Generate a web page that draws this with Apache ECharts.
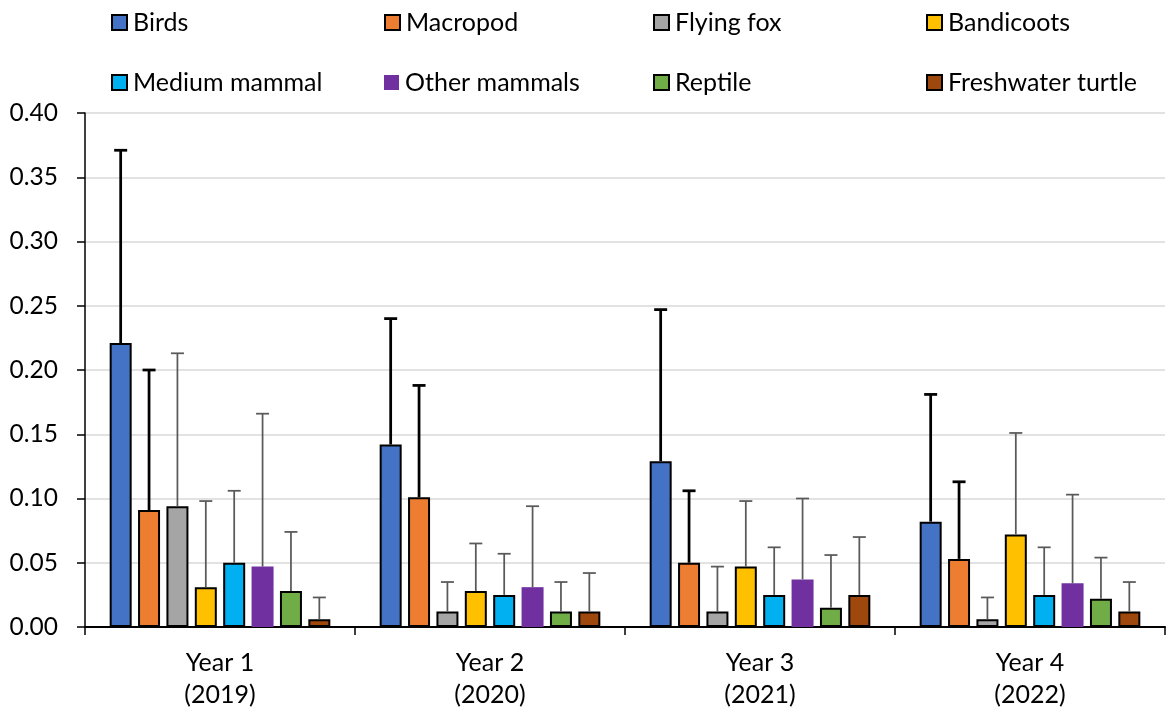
<!DOCTYPE html>
<html>
<head>
<meta charset="utf-8">
<script src="https://cdn.jsdelivr.net/npm/echarts@6/dist/echarts.min.js"></script>
<style>html,body{margin:0;padding:0;background:#fff}#c{width:1166px;height:707px}</style>
</head>
<body>
<div id="c"></div>
<script>
const categories = ['Year 1\n(2019)', 'Year 2\n(2020)', 'Year 3\n(2021)', 'Year 4\n(2022)'];
const speciesNames = ['Birds', 'Macropod', 'Flying fox', 'Bandicoots', 'Medium mammal', 'Other mammals', 'Reptile', 'Freshwater turtle'];
const yTicks = [0, 0.05, 0.10, 0.15, 0.20, 0.25, 0.30, 0.35, 0.40];

// mean values per species (Year 1..4)
const birds      = [0.221, 0.142, 0.129, 0.082];
const macropod   = [0.091, 0.101, 0.050, 0.053];
const flyingFox  = [0.094, 0.012, 0.012, 0.006];
const bandicoots = [0.031, 0.028, 0.047, 0.072];
const medium     = [0.050, 0.025, 0.025, 0.025];
const otherMam   = [0.047, 0.031, 0.037, 0.034];
const reptile    = [0.028, 0.012, 0.015, 0.022];
const turtle     = [0.006, 0.012, 0.025, 0.012];

// upper end of error bars
const birdsUp      = [0.371, 0.240, 0.247, 0.181];
const macropodUp   = [0.200, 0.188, 0.106, 0.113];
const flyingFoxUp  = [0.213, 0.035, 0.047, 0.023];
const bandicootsUp = [0.098, 0.065, 0.098, 0.151];
const mediumUp     = [0.106, 0.057, 0.062, 0.062];
const otherMamUp   = [0.166, 0.094, 0.100, 0.103];
const reptileUp    = [0.074, 0.035, 0.056, 0.054];
const turtleUp     = [0.023, 0.042, 0.070, 0.035];

const means = [birds, macropod, flyingFox, bandicoots, medium, otherMam, reptile, turtle];
const uppers = [birdsUp, macropodUp, flyingFoxUp, bandicootsUp, mediumUp, otherMamUp, reptileUp, turtleUp];

const colors = ['#4472C4', '#ED7D31', '#A5A5A5', '#FFC000', '#00B0F0', '#7030A0', '#70AD47', '#9E480E'];
const borderW = [2, 2, 2, 2, 2, 0, 2, 2];
const errColor = ['#000000', '#000000', '#595959', '#595959', '#595959', '#595959', '#595959', '#595959'];
const errWidth = [2.75, 2.75, 1.75, 1.75, 1.75, 1.75, 1.75, 1.75];

const FONT = 'Lato';
const BAR_W = 22;
const BAR_GAP = 0.29;
const PITCH = BAR_W * (1 + BAR_GAP);
const n = speciesNames.length;

const series = [];
speciesNames.forEach((name, i) => {
  series.push({
    name: name,
    type: 'bar',
    data: means[i],
    barWidth: BAR_W,
    barGap: (BAR_GAP * 100) + '%',
    itemStyle: { color: colors[i], borderColor: '#000', borderWidth: borderW[i] },
    emphasis: { disabled: true },
    z: 2
  });
});
speciesNames.forEach((name, i) => {
  series.push({
    name: name + ' error',
    type: 'custom',
    data: means[i].map((v, k) => [k, v, uppers[i][k]]),
    z: 5,
    silent: true,
    renderItem: function (params, api) {
      const base = api.coord([api.value(0), api.value(1)]);
      const top = api.coord([api.value(0), api.value(2)]);
      const x = base[0] + (i - (n - 1) / 2) * PITCH;
      const half = 6.5;
      const st = { stroke: errColor[i], lineWidth: errWidth[i] };
      return {
        type: 'group',
        children: [
          { type: 'line', shape: { x1: x, y1: base[1], x2: x, y2: top[1] }, style: st },
          { type: 'line', shape: { x1: x - half, y1: top[1], x2: x + half, y2: top[1] }, style: st }
        ]
      };
    }
  });
});

const legendLeft = [111, 384, 653, 926];
const legends = speciesNames.map((name, i) => ({
  data: [name],
  left: legendLeft[i % 4],
  top: i < 4 ? 10 : 70,
  itemWidth: 15,
  itemHeight: 15,
  itemGap: 0,
  padding: 0,
  selectedMode: false,
  textStyle: { fontFamily: FONT, fontSize: 25, color: '#000', padding: [0, 0, 0, 1] },
  icon: 'rect'
}));

const chart = echarts.init(document.getElementById('c'), null, { renderer: 'canvas' });
chart.setOption({
  animation: false,
  backgroundColor: '#fff',
  legend: legends,
  grid: { left: 85, right: 1, top: 113, bottom: 80, containLabel: false, outerBoundsMode: 'none' },
  xAxis: {
    type: 'category',
    data: categories,
    axisLine: { lineStyle: { color: '#000', width: 2 } },
    axisTick: { show: true, length: 8, lineStyle: { color: '#000', width: 1.5 } },
    axisLabel: { fontFamily: FONT, fontSize: 25, color: '#000', lineHeight: 32, margin: 20 },
    splitLine: { show: false }
  },
  yAxis: {
    type: 'value',
    min: yTicks[0],
    max: yTicks[yTicks.length - 1],
    interval: yTicks[1] - yTicks[0],
    axisLine: { show: true, lineStyle: { color: '#000', width: 1.5 } },
    axisTick: { show: true, length: 8, lineStyle: { color: '#000', width: 1.5 } },
    axisLabel: { fontFamily: FONT, fontSize: 24.5, color: '#000', margin: 27, formatter: v => v.toFixed(2) },
    splitLine: { show: true, lineStyle: { color: '#D9D9D9', width: 1.5 } }
  },
  series: series
});
</script>
</body>
</html>
